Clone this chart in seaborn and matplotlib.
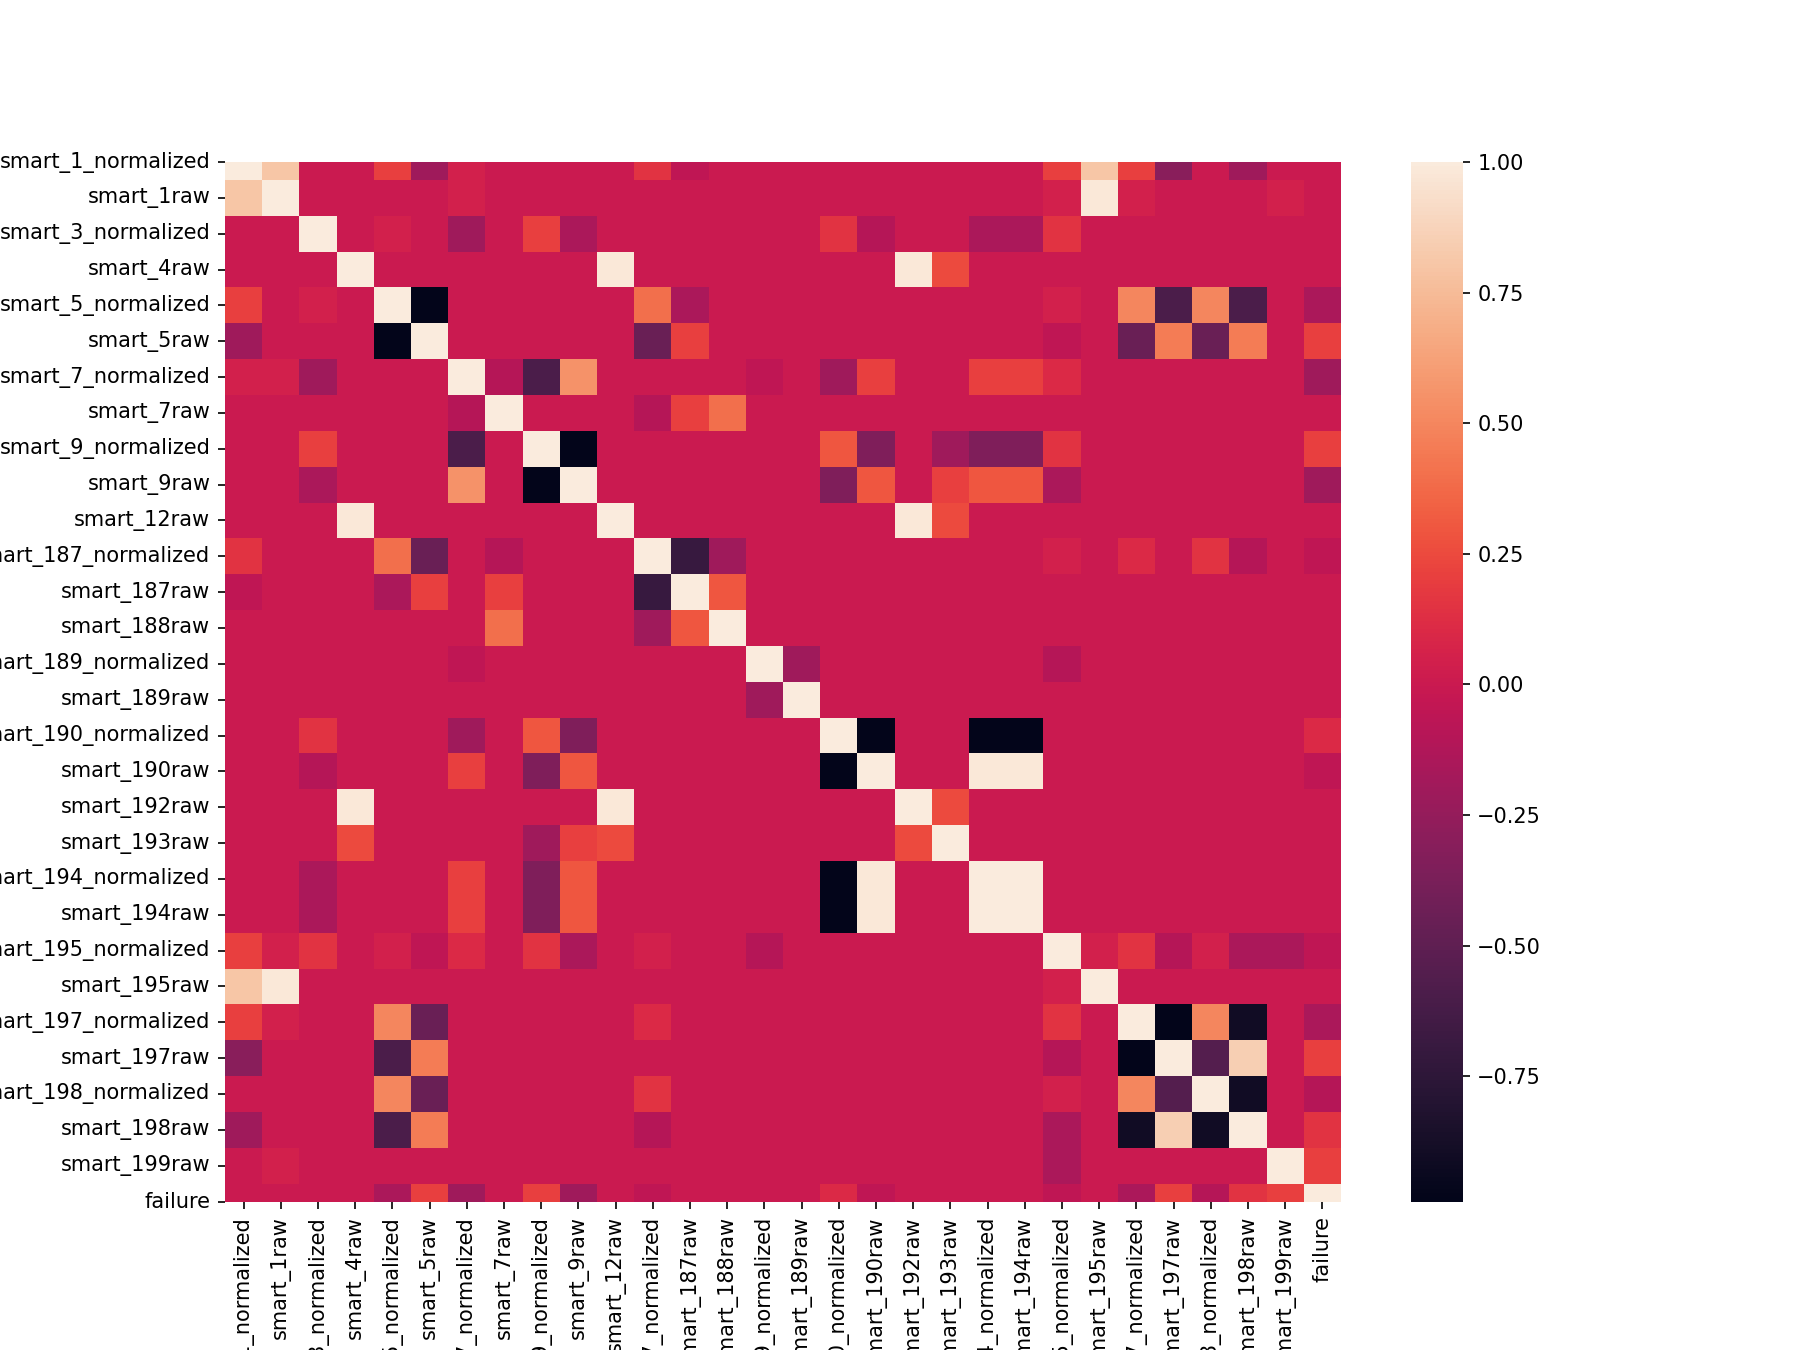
import numpy as np
import pandas as pd
import seaborn as sns
import matplotlib
matplotlib.use("Agg")
import matplotlib.pyplot as plt

labels = ["smart_1_normalized", "smart_1raw", "smart_3_normalized", "smart_4raw",
          "smart_5_normalized", "smart_5raw", "smart_7_normalized", "smart_7raw",
          "smart_9_normalized", "smart_9raw", "smart_12raw", "smart_187_normalized",
          "smart_187raw", "smart_188raw", "smart_189_normalized", "smart_189raw",
          "smart_190_normalized", "smart_190raw", "smart_192raw", "smart_193raw",
          "smart_194_normalized", "smart_194raw", "smart_195_normalized", "smart_195raw",
          "smart_197_normalized", "smart_197raw", "smart_198_normalized", "smart_198raw",
          "smart_199raw", "failure"]

# pairwise correlations (row, col, value); unlisted pairs ~0
pairs = [
    (0, 1, 0.80), (0, 4, 0.20), (0, 5, -0.20), (0, 6, 0.05), (0, 11, 0.15), (0, 12, -0.05),
    (0, 22, 0.20), (0, 23, 0.80), (0, 24, 0.20), (0, 25, -0.30), (0, 27, -0.20),
    (1, 23, 0.98), (1, 6, 0.05), (1, 24, 0.05), (1, 28, 0.05), (1, 22, 0.05),
    (2, 6, -0.20), (2, 8, 0.20), (2, 9, -0.15), (2, 16, 0.15), (2, 17, -0.10),
    (2, 20, -0.15), (2, 21, -0.15), (2, 22, 0.15), (2, 4, 0.05),
    (3, 10, 0.98), (3, 18, 0.98), (3, 19, 0.25),
    (4, 5, -1.0), (4, 11, 0.40), (4, 12, -0.15), (4, 24, 0.50), (4, 25, -0.60),
    (4, 26, 0.50), (4, 27, -0.60), (4, 22, 0.05), (4, 29, -0.15),
    (5, 11, -0.45), (5, 12, 0.20), (5, 24, -0.45), (5, 25, 0.45), (5, 26, -0.45),
    (5, 27, 0.45), (5, 29, 0.20), (5, 22, -0.05),
    (6, 7, -0.10), (6, 8, -0.60), (6, 9, 0.55), (6, 16, -0.20), (6, 17, 0.20),
    (6, 20, 0.20), (6, 21, 0.20), (6, 22, 0.10), (6, 29, -0.20), (6, 14, -0.05),
    (7, 11, -0.10), (7, 12, 0.20), (7, 13, 0.40),
    (8, 9, -1.0), (8, 16, 0.30), (8, 17, -0.35), (8, 19, -0.20), (8, 20, -0.35),
    (8, 21, -0.35), (8, 22, 0.15), (8, 29, 0.20),
    (9, 16, -0.35), (9, 17, 0.30), (9, 19, 0.20), (9, 20, 0.30), (9, 21, 0.30),
    (9, 22, -0.15), (9, 29, -0.20),
    (10, 18, 0.98), (10, 19, 0.25),
    (11, 12, -0.70), (11, 13, -0.20), (11, 24, 0.10), (11, 26, 0.15), (11, 27, -0.10),
    (11, 29, -0.05), (11, 22, 0.05),
    (12, 13, 0.30),
    (14, 15, -0.20), (14, 22, -0.10),
    (16, 17, -1.0), (16, 20, -1.0), (16, 21, -1.0), (16, 29, 0.10),
    (17, 20, 0.98), (17, 21, 0.98), (17, 29, -0.05),
    (18, 19, 0.25),
    (20, 21, 1.0),
    (22, 24, 0.15), (22, 25, -0.10), (22, 27, -0.15), (22, 28, -0.15), (22, 23, 0.05),
    (22, 26, 0.05), (22, 29, -0.05),
    (24, 25, -1.0), (24, 26, 0.50), (24, 27, -0.90), (24, 29, -0.15),
    (25, 26, -0.55), (25, 27, 0.85), (25, 29, 0.20),
    (26, 27, -0.90), (26, 29, -0.10),
    (27, 29, 0.15),
    (28, 29, 0.20),
]

n = len(labels)
corr = np.zeros((n, n))
for i, j, v in pairs:
    corr[i, j] = v
    corr[j, i] = v
np.fill_diagonal(corr, 1.0)
corr[corr <= -1.0] = -0.99
df = pd.DataFrame(corr, index=labels, columns=labels)

fig = plt.figure(figsize=(12, 9), dpi=150)
ax = sns.heatmap(df)
# reference shows first and last rows cut in half
ax.set_ylim(n - 0.5, 0.5)
plt.savefig("out.png", dpi=150)
